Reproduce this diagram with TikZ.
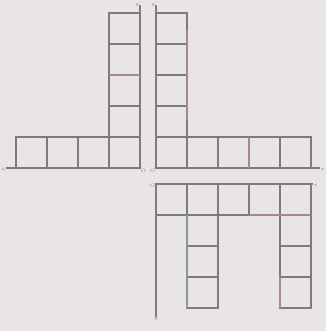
\documentclass[tikz,border=0pt]{standalone}
\definecolor{bg}{HTML}{E9E4E7}
\definecolor{gridgray}{HTML}{7E7B7D}
\definecolor{tintred}{HTML}{A8878A}
\definecolor{tintgreen}{HTML}{879C8C}
\begin{document}
\begin{tikzpicture}[x=1pt,y=-1pt,
    axis/.style={gridgray,line width=1.3pt},
    cell/.style={gridgray,line width=1.3pt},
    lbl/.style={font=\tiny,text=gridgray,inner sep=0.5pt}]
    \fill [bg] (0,0) rectangle (326,331);
    % upper left
    \draw [axis] (140,5) -- (140,168) -- (6,168);
    \node [lbl,left] (ulY) at (140,5) {$y$};
    \node [lbl,below left] (ulX) at (6,168) {$x$};
    \node [lbl,below right] (ulO) at (140,168) {$O$};
    \foreach \y in {13,44,75,106} \draw [cell] (109,\y) rectangle (140,\y+31);
    \foreach \x in {16,47,78,109} \draw [cell] (\x,137) rectangle (\x+31,168);
    \draw [tintred,line width=1.3pt] (109,75) -- (140,75);
    % upper right
    \draw [axis] (156,5) -- (156,168) -- (320,168);
    \node [lbl,left] (urY) at (156,5) {$y$};
    \node [lbl,below right] (urX) at (320,168) {$x$};
    \node [lbl,below left] (urO) at (156,168) {$O$};
    \foreach \y in {13,44,75,106} \draw [cell] (156,\y) rectangle (187,\y+31);
    \foreach \x in {156,187,218,249,280} \draw [cell] (\x,137) rectangle (\x+31,168);
    \draw [tintred,line width=1.3pt] (187,30) -- (187,120);
    \draw [tintred,line width=1.3pt] (249,137) -- (249,168);
    % lower right
    \draw [axis] (313,184) -- (156,184) -- (156,317);
    \node [lbl,left] (lrO) at (156,186) {$O$};
    \node [lbl,below right] (lrX) at (313,184) {$x$};
    \node [lbl,below] (lrY) at (156,317) {$y$};
    \foreach \x in {156,187,218,249,280} \draw [cell] (\x,184) rectangle (\x+31,215);
    \foreach \y in {215,246,277} {
        \draw [cell] (187,\y) rectangle (218,\y+31);
        \draw [cell] (280,\y) rectangle (311,\y+31);
    }
    \draw [tintgreen,line width=1.3pt] (187,215) -- (187,308);
    \draw [tintred,line width=1.3pt] (249,215) -- (311,215);
    \draw [tintred,line width=1.3pt] (280,277) -- (280,308);
\end{tikzpicture}
\end{document}
